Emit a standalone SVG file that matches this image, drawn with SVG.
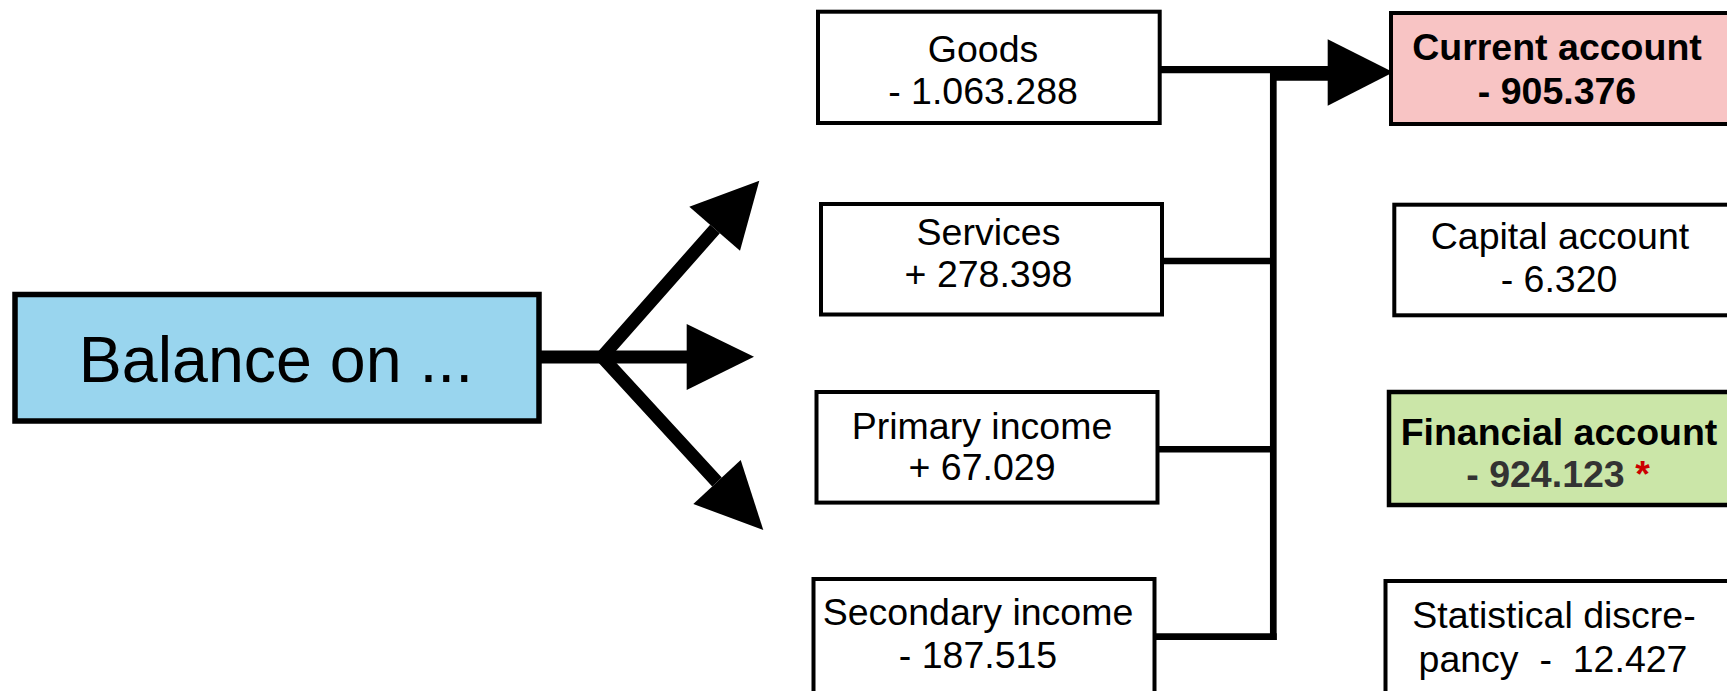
<svg xmlns="http://www.w3.org/2000/svg" width="1727" height="691" viewBox="0 0 1727 691">
<style>
.bx{fill:#ffffff;stroke:#000000;stroke-width:4}
.t{font-family:"Liberation Sans",Arial,sans-serif;font-size:37.5px;fill:#000000;text-anchor:middle;white-space:pre}
.b{font-weight:bold}
.ln{stroke:#000000;fill:none}
.hd{fill:#000000}
</style>
<rect x="0" y="0" width="1727" height="691" fill="#ffffff"/>
<g id="connectors">
  <line class="ln" x1="541" y1="357" x2="692" y2="357" stroke-width="13"/>
  <path class="ln" d="M715,229 L602,357 L717,482" stroke-width="13" stroke-linejoin="miter"/>
  <polygon class="hd" points="686.7,324 754,356.7 686.7,390"/>
  <polygon class="hd" points="689.3,206.7 759.3,180.7 740,250.7"/>
  <polygon class="hd" points="693.3,504 763.3,530 740.7,460"/>
  <line class="ln" x1="1160" y1="69.7" x2="1276.7" y2="69.7" stroke-width="7.3"/>
  <line class="ln" x1="1270" y1="73.3" x2="1332" y2="73.3" stroke-width="14.7"/>
  <line class="ln" x1="1273.3" y1="66" x2="1273.3" y2="640" stroke-width="6.7"/>
  <line class="ln" x1="1162" y1="261" x2="1273" y2="261" stroke-width="6.6"/>
  <line class="ln" x1="1157.7" y1="449.3" x2="1273" y2="449.3" stroke-width="6.6"/>
  <line class="ln" x1="1151" y1="636.7" x2="1276.7" y2="636.7" stroke-width="6.7"/>
  <polygon class="hd" points="1327.7,39.3 1393.3,72.3 1327.7,105.7"/>
</g>
<g id="balance">
  <rect x="15" y="294.5" width="524" height="126.5" fill="#99d5ee" stroke="#000000" stroke-width="5.5"/>
  <text x="276" y="381.7" font-family="Liberation Sans, Arial, sans-serif" font-size="64.5" text-anchor="middle" fill="#000000">Balance on ...</text>
</g>
<g id="goods">
  <rect class="bx" x="818" y="11.7" width="341.7" height="111.3"/>
  <text class="t" x="983" y="61.7">Goods</text>
  <text class="t" x="983" y="103.6">- 1.063.288</text>
</g>
<g id="services">
  <rect class="bx" x="821" y="204" width="341" height="110.5"/>
  <text class="t" x="988.5" y="244.6">Services</text>
  <text class="t" x="988.5" y="287.3">+ 278.398</text>
</g>
<g id="primary-income">
  <rect class="bx" x="816.5" y="392" width="341" height="110.6"/>
  <text class="t" x="982" y="438.5">Primary income</text>
  <text class="t" x="982" y="479.5">+ 67.029</text>
</g>
<g id="secondary-income">
  <rect class="bx" x="813.5" y="579" width="341" height="140"/>
  <text class="t" x="978" y="625">Secondary income</text>
  <text class="t" x="978" y="667.7">- 187.515</text>
</g>
<g id="current-account">
  <rect x="1391" y="13" width="400" height="111" fill="#f8c4c4" stroke="#000000" stroke-width="4"/>
  <text class="t b" x="1557" y="59.5">Current account</text>
  <text class="t b" x="1557" y="103.6">- 905.376</text>
</g>
<g id="capital-account">
  <rect class="bx" x="1394.3" y="204.7" width="400" height="110.6"/>
  <text class="t" x="1560" y="249">Capital account</text>
  <text class="t" x="1559" y="291.8">- 6.320</text>
</g>
<g id="financial-account">
  <rect x="1389" y="392" width="400" height="113" fill="#cbe6a8" stroke="#000000" stroke-width="4.5"/>
  <text class="t b" x="1559" y="445">Financial account</text>
  <text class="t b" x="1558" y="487"><tspan fill="#333333">- 924.123 </tspan><tspan fill="#cc0000">*</tspan></text>
</g>
<g id="statistical-discrepancy">
  <rect class="bx" x="1385.5" y="581" width="400" height="140"/>
  <text class="t" x="1554" y="628">Statistical discre-</text>
  <text class="t" x="1553" y="672">pancy  -  12.427</text>
</g>
</svg>
